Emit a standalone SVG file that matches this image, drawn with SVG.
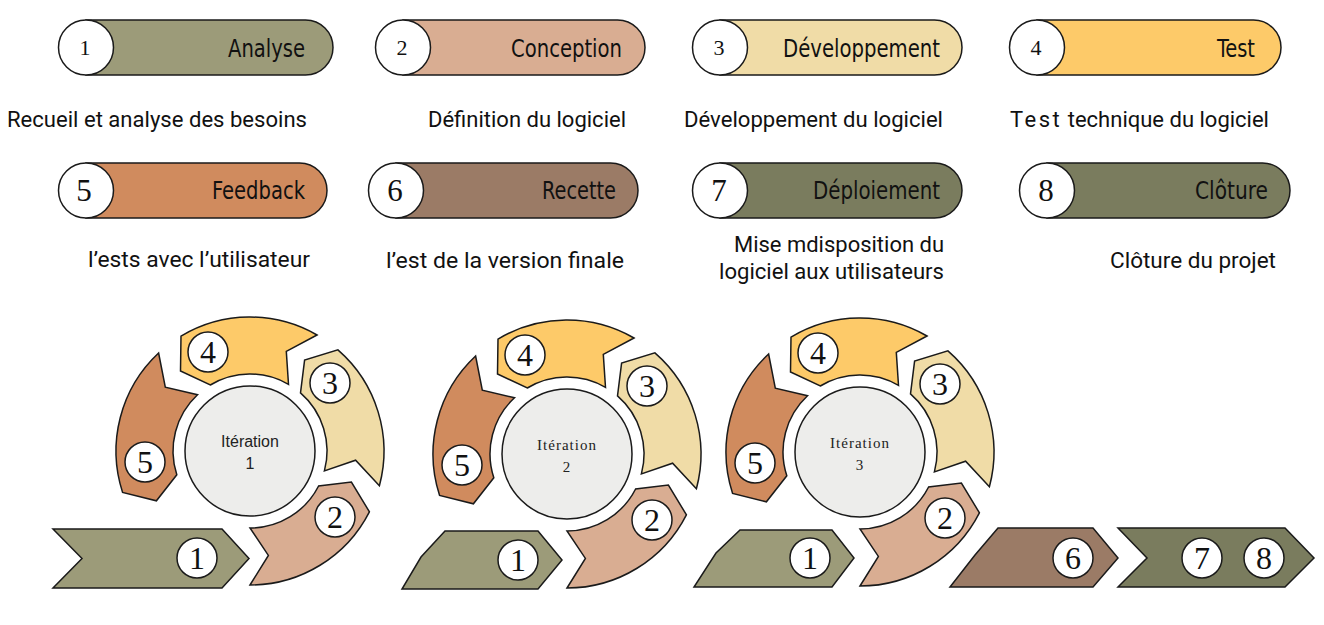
<svg xmlns="http://www.w3.org/2000/svg" xmlns:xlink="http://www.w3.org/1999/xlink" width="1324" height="625" viewBox="0 0 1324 625">
<style>
  .ln{stroke:#1a1a1a;stroke-width:1.5;stroke-linejoin:miter}
  .c1{fill:#9C9B79}.c2{fill:#D9AD92}.c3{fill:#F0DCA7}.c4{fill:#FDCA69}.c5{fill:#D08B5E}.c6{fill:#9B7B66}.c7{fill:#7A7C5E}
  .wc{fill:#fff;stroke:#1a1a1a;stroke-width:1.5}
  .hub{fill:#EDEDEB;stroke:#1a1a1a;stroke-width:1.5}
  .pl{font-family:"DejaVu Sans Condensed","DejaVu Sans",sans-serif;font-stretch:condensed;font-size:24px;fill:#111;text-anchor:end}
  .pn1{font-family:"Liberation Serif",serif;font-size:22px;fill:#111;text-anchor:middle}
  .pn2{font-family:"Liberation Serif",serif;font-size:31px;fill:#111;text-anchor:middle}
  .sn{font-family:"Liberation Serif",serif;font-size:32px;fill:#111;text-anchor:middle}
  .ds{font-family:Roboto,"Liberation Sans",sans-serif;font-size:22px;fill:#111}
  .it1{font-family:"Liberation Sans",sans-serif;font-size:16px;fill:#222;text-anchor:middle}
  .it2{font-family:"Liberation Serif",serif;font-size:15px;letter-spacing:1px;fill:#222;text-anchor:middle}
</style>
<defs>
  <path id="s2" d="M0,134 L18.4,104.4 L0,77 A77,77 0 0 0 68.6,35 L101.4,31 L119.4,60.8 A134,134 0 0 1 0,134 Z"/>
  <path id="s3" d="M129.4,34.7 L105.6,9.2 L74.4,19.9 A77,77 0 0 0 50.5,-58.1 L54.6,-90.9 L87.9,-101.1 A134,134 0 0 1 129.4,34.7 Z"/>
  <path id="s4" d="M67,-116 L36.3,-99.6 L38.5,-66.7 A77,77 0 0 0 -39.7,-66 L-69.5,-80 L-69,-114.9 A134,134 0 0 1 67,-116 Z"/>
  <path id="s5" d="M-91.4,-98 L-84.7,-63.8 L-52.5,-56.3 A77,77 0 0 0 -73.2,23.8 L-93.6,49.8 L-127.4,41.4 A134,134 0 0 1 -91.4,-98 Z"/>
</defs>
<rect width="1324" height="625" fill="#fff"/>

<!-- Legend pills row 1 -->
<g id="pill1">
  <path class="c1 ln" d="M86,20 H305.5 A27.5,27.5 0 0 1 305.5,75 H86 Z"/>
  <circle class="wc" cx="86" cy="47.5" r="27.5"/>
  <text class="pn1" x="85" y="55">1</text>
  <text class="pl" x="305" y="57" textLength="77" lengthAdjust="spacingAndGlyphs">Analyse</text>
</g>
<g id="pill2">
  <path class="c2 ln" d="M403,20 H617.5 A27.5,27.5 0 0 1 617.5,75 H403 Z"/>
  <circle class="wc" cx="403" cy="47.5" r="27.5"/>
  <text class="pn1" x="402" y="55">2</text>
  <text class="pl" x="622" y="57" textLength="111" lengthAdjust="spacingAndGlyphs">Conception</text>
</g>
<g id="pill3">
  <path class="c3 ln" d="M720,20 H934.5 A27.5,27.5 0 0 1 934.5,75 H720 Z"/>
  <circle class="wc" cx="720" cy="47.5" r="27.5"/>
  <text class="pn1" x="719" y="55">3</text>
  <text class="pl" x="940" y="57" textLength="157" lengthAdjust="spacingAndGlyphs">Développement</text>
</g>
<g id="pill4">
  <path class="c4 ln" d="M1037,20 H1253.5 A27.5,27.5 0 0 1 1253.5,75 H1037 Z"/>
  <circle class="wc" cx="1037" cy="47.5" r="27.5"/>
  <text class="pn1" x="1036" y="55">4</text>
  <text class="pl" x="1255" y="57" textLength="38" lengthAdjust="spacingAndGlyphs">Test</text>
</g>

<!-- Legend pills row 2 -->
<g id="pill5">
  <path class="c5 ln" d="M86,163 H299.5 A27.5,27.5 0 0 1 299.5,218 H86 Z"/>
  <circle class="wc" cx="86" cy="190.5" r="27.5"/>
  <text class="pn2" x="84" y="201">5</text>
  <text class="pl" x="305" y="199" textLength="93" lengthAdjust="spacingAndGlyphs">Feedback</text>
</g>
<g id="pill6">
  <path class="c6 ln" d="M396,163 H610.5 A27.5,27.5 0 0 1 610.5,218 H396 Z"/>
  <circle class="wc" cx="396" cy="190.5" r="27.5"/>
  <text class="pn2" x="395" y="201">6</text>
  <text class="pl" x="616" y="199" textLength="74" lengthAdjust="spacingAndGlyphs">Recette</text>
</g>
<g id="pill7">
  <path class="c7 ln" d="M720,163 H934.5 A27.5,27.5 0 0 1 934.5,218 H720 Z"/>
  <circle class="wc" cx="720" cy="190.5" r="27.5"/>
  <text class="pn2" x="719" y="201">7</text>
  <text class="pl" x="940" y="199" textLength="127" lengthAdjust="spacingAndGlyphs">Déploiement</text>
</g>
<g id="pill8">
  <path class="c7 ln" d="M1047,163 H1262.5 A27.5,27.5 0 0 1 1262.5,218 H1047 Z"/>
  <circle class="wc" cx="1047" cy="190.5" r="27.5"/>
  <text class="pn2" x="1046" y="201">8</text>
  <text class="pl" x="1268" y="199" textLength="73" lengthAdjust="spacingAndGlyphs">Clôture</text>
</g>

<!-- Descriptions -->
<g id="descriptions">
  <text class="ds" x="7" y="127" textLength="300" lengthAdjust="spacingAndGlyphs">Recueil et analyse des besoins</text>
  <text class="ds" x="428" y="127" textLength="198" lengthAdjust="spacingAndGlyphs">Définition du logiciel</text>
  <text class="ds" x="684" y="127" textLength="259" lengthAdjust="spacingAndGlyphs">Développement du logiciel</text>
  <text class="ds" x="1010" y="127"><tspan letter-spacing="2.5">Test</tspan> technique du logiciel</text>
  <text class="ds" x="88" y="267" textLength="222" lengthAdjust="spacingAndGlyphs">l’ests avec l’utilisateur</text>
  <text class="ds" x="386" y="268" textLength="238" lengthAdjust="spacingAndGlyphs">l’est de la version finale</text>
  <text class="ds" x="734" y="252" textLength="210" lengthAdjust="spacingAndGlyphs">Mise mdisposition du</text>
  <text class="ds" x="719" y="279" textLength="225" lengthAdjust="spacingAndGlyphs">logiciel aux utilisateurs</text>
  <text class="ds" x="1110" y="268" textLength="166" lengthAdjust="spacingAndGlyphs">Clôture du projet</text>
</g>

<!-- Cycle 1 -->
<g id="cycle1" transform="translate(250,451)">
  <g id="c1-seg4"><use xlink:href="#s4" class="c4 ln"/><circle class="wc" cx="-42" cy="-99" r="20"/><text class="sn" x="-42" y="-88">4</text></g>
  <g id="c1-seg3"><use xlink:href="#s3" class="c3 ln"/><circle class="wc" cx="80" cy="-68" r="20"/><text class="sn" x="80" y="-57">3</text></g>
  <g id="c1-seg5"><use xlink:href="#s5" class="c5 ln"/><circle class="wc" cx="-105" cy="11" r="20"/><text class="sn" x="-105" y="22">5</text></g>
  <g id="c1-seg2"><use xlink:href="#s2" class="c2 ln"/><circle class="wc" cx="85" cy="66" r="20"/><text class="sn" x="85" y="77">2</text></g>
  <g id="c1-hub"><circle class="hub" cx="0" cy="0" r="65"/><text class="it1" x="0" y="-4">Itération</text><text class="it1" x="0" y="18">1</text></g>
</g>
<g id="c1-arrow1">
  <path class="c1 ln" d="M53,529 L222,529 L249,558.5 L222,588 L53,588 L82,558.5 Z"/>
  <circle class="wc" cx="197" cy="558" r="20"/><text class="sn" x="197" y="569">1</text>
</g>

<!-- Cycle 2 -->
<g id="cycle2" transform="translate(567,454)">
  <g id="c2-seg4"><use xlink:href="#s4" class="c4 ln"/><circle class="wc" cx="-42" cy="-99" r="20"/><text class="sn" x="-42" y="-88">4</text></g>
  <g id="c2-seg3"><use xlink:href="#s3" class="c3 ln"/><circle class="wc" cx="80" cy="-68" r="20"/><text class="sn" x="80" y="-57">3</text></g>
  <g id="c2-seg5"><use xlink:href="#s5" class="c5 ln"/><circle class="wc" cx="-105" cy="11" r="20"/><text class="sn" x="-105" y="22">5</text></g>
  <g id="c2-seg2"><use xlink:href="#s2" class="c2 ln"/><circle class="wc" cx="85" cy="66" r="20"/><text class="sn" x="85" y="77">2</text></g>
  <g id="c2-hub"><circle class="hub" cx="0" cy="0" r="65"/><text class="it2" x="0" y="-4">Itération</text><text class="it2" x="0" y="18">2</text></g>
</g>
<g id="c2-arrow1">
  <path class="c1 ln" d="M445,531 L538,531 L562,560 L538,589 L402,589 L421,557 Z"/>
  <circle class="wc" cx="518" cy="560" r="20"/><text class="sn" x="518" y="571">1</text>
</g>

<!-- Cycle 3 -->
<g id="cycle3" transform="translate(860,452)">
  <g id="c3-seg4"><use xlink:href="#s4" class="c4 ln"/><circle class="wc" cx="-42" cy="-99" r="20"/><text class="sn" x="-42" y="-88">4</text></g>
  <g id="c3-seg3"><use xlink:href="#s3" class="c3 ln"/><circle class="wc" cx="80" cy="-68" r="20"/><text class="sn" x="80" y="-57">3</text></g>
  <g id="c3-seg5"><use xlink:href="#s5" class="c5 ln"/><circle class="wc" cx="-105" cy="11" r="20"/><text class="sn" x="-105" y="22">5</text></g>
  <g id="c3-seg2"><use xlink:href="#s2" class="c2 ln"/><circle class="wc" cx="85" cy="66" r="20"/><text class="sn" x="85" y="77">2</text></g>
  <g id="c3-hub"><circle class="hub" cx="0" cy="0" r="65"/><text class="it2" x="0" y="-4">Itération</text><text class="it2" x="0" y="18">3</text></g>
</g>
<g id="c3-arrow1">
  <path class="c1 ln" d="M740,530 L832,530 L854,558 L832,587 L694,587 L716,553 Z"/>
  <circle class="wc" cx="810" cy="558" r="20"/><text class="sn" x="810" y="569">1</text>
</g>

<!-- Final arrows -->
<g id="arrow6">
  <path class="c6 ln" d="M998,528 L1093,528 L1118,558 L1093,587 L950,587 L975,555 Z"/>
  <circle class="wc" cx="1073" cy="558" r="20"/><text class="sn" x="1073" y="569">6</text>
</g>
<g id="arrow78">
  <path class="c7 ln" d="M1118,528 L1285,528 L1314,558 L1285,587 L1118,587 L1147,558 Z"/>
  <circle class="wc" cx="1202" cy="558" r="20"/><text class="sn" x="1202" y="569">7</text>
  <circle class="wc" cx="1264" cy="558" r="20"/><text class="sn" x="1264" y="569">8</text>
</g>
<g id="connectors"/>
</svg>
